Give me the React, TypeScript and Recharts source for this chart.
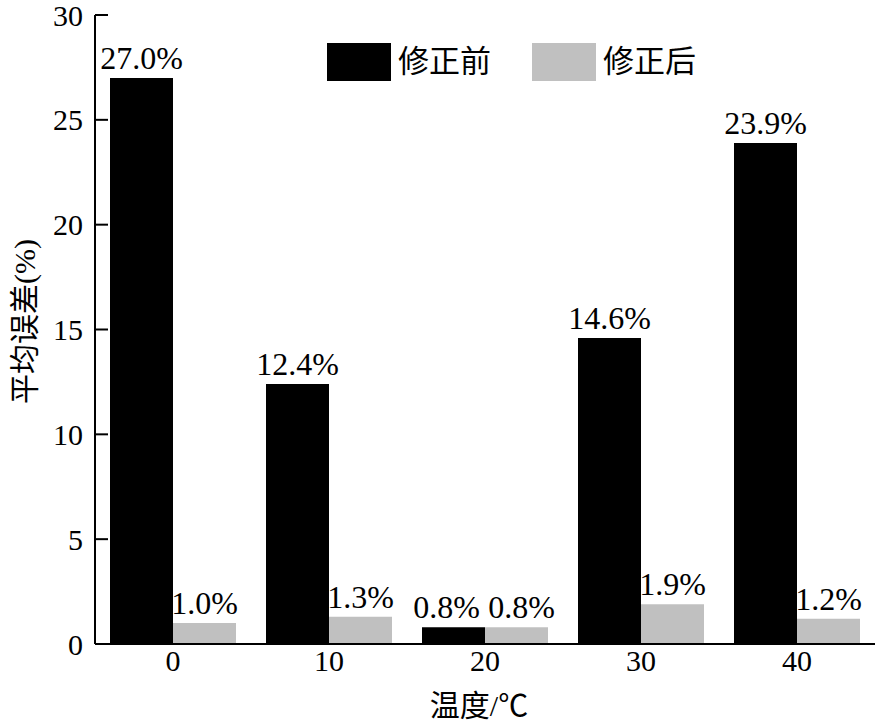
import React from 'react';
import { BarChart, Bar, XAxis, YAxis, Legend, LabelList } from 'recharts';

const categories = ['0', '10', '20', '30', '40'];
const beforeValues = [27.0, 12.4, 0.8, 14.6, 23.9];
const afterValues = [1.0, 1.3, 0.8, 1.9, 1.2];
const yTicks = [0, 5, 10, 15, 20, 25, 30];

const data = categories.map((t, i) => ({ t, before: beforeValues[i], after: afterValues[i] }));

const SERIF = '"Liberation Serif", "Times New Roman", serif';
const FONT = '"Liberation Serif", "Noto Sans CJK SC", serif';

const YTick = (props: any) => {
  const { x, y, payload } = props;
  return (
    <g>
      <line x1={x + 12} x2={x + 25} y1={y} y2={y} stroke="#000" strokeWidth={2} />
      <text x={x} y={y} textAnchor="end" dominantBaseline="central" fontSize={30} fontFamily={SERIF} fill="#000">
        {payload.value}
      </text>
    </g>
  );
};

const XTick = (props: any) => {
  const { x, y, payload } = props;
  return (
    <text x={x} y={y + 25} textAnchor="middle" fontSize={30} fontFamily={SERIF} fill="#000">
      {payload.value}
    </text>
  );
};

const YLabel = (props: any) => {
  const vb = props.viewBox;
  const cx = vb.x + 24;
  const cy = vb.y + vb.height / 2 - 8;
  return (
    <text x={cx} y={cy} transform={`rotate(-90 ${cx} ${cy})`} textAnchor="middle" dominantBaseline="central" fontSize={30} fontFamily={FONT} fill="#000">
      平均误差(%)
    </text>
  );
};

const XLabel = (props: any) => {
  const vb = props.viewBox;
  return (
    <text x={vb.x + vb.width / 2 - 6} y={vb.y + 61} textAnchor="middle" dominantBaseline="central" fontSize={30} fontFamily={FONT} fill="#000">
      温度/℃
    </text>
  );
};

const LegendBox = (props: any) => {
  const items = props.payload || [];
  return (
    <div style={{ display: 'flex', alignItems: 'center', fontFamily: FONT }}>
      {items.map((it: any, i: number) => (
        <div key={i} style={{ display: 'flex', alignItems: 'center', marginRight: 41 }}>
          <div style={{ width: 64, height: 38, background: it.color }} />
          <span style={{ fontSize: 31, marginLeft: 7, color: '#000', lineHeight: '38px' }}>{it.value}</span>
        </div>
      ))}
    </div>
  );
};

// value label above a bar; the two labels at 20 are pushed apart a little
const makeLabel = (shift: number) => (props: any) => {
  const { x, y, width, value, index } = props;
  const dx = index === 2 ? shift : 0;
  return (
    <text x={x + width / 2 + dx} y={y - 9} textAnchor="middle" fontSize={32} fontFamily={SERIF} fill="#000">
      {`${Number(value).toFixed(1)}%`}
    </text>
  );
};

export default function App() {
  return (
    <div style={{ position: 'absolute', left: 0, top: 0, width: 879, height: 726, background: '#fff', fontFamily: FONT }}>
      <BarChart
        width={879}
        height={726}
        data={data}
        margin={{ top: 15, right: 4, left: 0, bottom: 0 }}
        barGap={0}
        barSize={63}
        style={{ fontFamily: FONT }}
      >
        <XAxis
          dataKey="t"
          height={82}
          axisLine={{ stroke: '#000', strokeWidth: 2 }}
          tickLine={false}
          tickSize={0}
          tick={<XTick />}
          label={<XLabel />}
        />
        <XAxis xAxisId="top" dataKey="t" orientation="top" height={0} tick={false} tickLine={false} axisLine={{ stroke: '#000', strokeWidth: 2 }} />
        <YAxis
          width={95}
          domain={[0, 30]}
          ticks={yTicks}
          interval={0}
          axisLine={{ stroke: '#000', strokeWidth: 2 }}
          tickLine={false}
          tickSize={0}
          tickMargin={12}
          tick={<YTick />}
          label={<YLabel />}
        />
        <YAxis yAxisId="right" orientation="right" width={0} domain={[0, 30]} tick={false} tickLine={false} axisLine={{ stroke: '#000', strokeWidth: 2 }} />
        <Legend
          layout="vertical"
          align="center"
          verticalAlign="middle"
          content={<LegendBox />}
          wrapperStyle={{ position: 'absolute', top: 43, left: 327, width: 420 }}
        />
        <Bar dataKey="before" name="修正前" fill="#000" isAnimationActive={false}>
          <LabelList dataKey="before" content={makeLabel(-7)} />
        </Bar>
        <Bar dataKey="after" name="修正后" fill="#c0c0c0" isAnimationActive={false}>
          <LabelList dataKey="after" content={makeLabel(5)} />
        </Bar>
      </BarChart>
    </div>
  );
}
